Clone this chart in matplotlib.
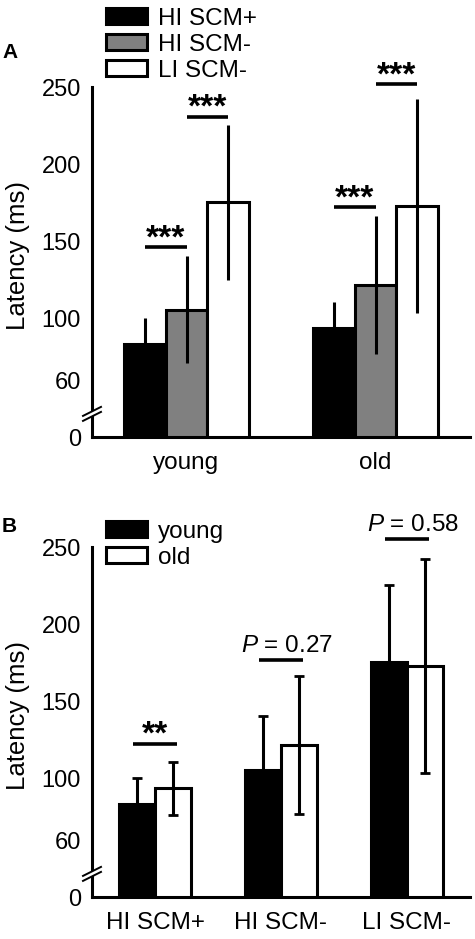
import numpy as np
import matplotlib
matplotlib.use('Agg')
import matplotlib.pyplot as plt

plt.rcParams['font.family'] = ['Liberation Sans', 'DejaVu Sans']
plt.rcParams['mathtext.fontset'] = 'custom'
plt.rcParams['mathtext.it'] = 'Liberation Sans:italic'
plt.rcParams['mathtext.rm'] = 'Liberation Sans'

# ---------------- data ----------------
ages = ['young', 'old']
conditions = ['HI SCM+', 'HI SCM-', 'LI SCM-']
# mean latency (ms), index 0 = young, 1 = old
mean_hi_pos = [84, 94]
mean_hi_neg = [106, 122]
mean_li_neg = [175.5, 173]
# standard deviations
sd_hi_pos = [16.5, 17]
sd_hi_neg = [34.5, 44.5]
sd_li_neg = [50, 69]

yticks = [0, 60, 100, 150, 200, 250]
ytick_labels = ['0', '60', '100', '150', '200', '250']

# significance annotations panel A: (age index, pair start condition, y, label)
sigA_age = [0, 0, 1, 1]
sigA_cond = [0, 1, 0, 1]
sigA_y = [146.5, 230.6, 172.3, 251.7]
sigA_label = ['***', '***', '***', '***']

# significance annotations panel B (one per condition)
sigB_y = [122.6, 177, 255]
sigB_label = ['**', r'$\mathit{P}$ = 0.27', r'$\mathit{P}$ = 0.58']

# ---------------- broken axis scale ----------------
B0 = 23.7   # display position of zero
T = 45.0    # below this value the axis is compressed


def fwd(v):
    v = np.asarray(v, dtype=float)
    return np.where(v < T, B0 + v * (T - B0) / T, v)


def inv(d):
    d = np.asarray(d, dtype=float)
    return np.where(d < T, (d - B0) * T / (T - B0), d)


LW = 2.2
fig = plt.figure(figsize=(4.75, 9.39), dpi=100)

axA = fig.add_axes([92 / 475, 1 - 437 / 939, 378 / 475, 350 / 939])
axB = fig.add_axes([92 / 475, 1 - 897 / 939, 378 / 475, 350 / 939])


def style(ax):
    ax.set_yscale('function', functions=(fwd, inv))
    ax.set_ylim(0, 250)
    ax.set_yticks(yticks)
    ax.set_yticklabels(ytick_labels)
    ax.minorticks_off()
    for s in ['top', 'right']:
        ax.spines[s].set_visible(False)
    for s in ['left', 'bottom']:
        ax.spines[s].set_linewidth(LW)
    ax.tick_params(axis='y', which='both', length=0, pad=8, labelsize=17)
    ax.tick_params(axis='x', which='both', length=0, pad=11, labelsize=17.5)
    ax.set_ylabel('Latency (ms)', fontsize=18.5)
    ax.yaxis.set_label_coords(-0.164, 0.52)
    # axis break marks
    px, py = 1 / 378, 1 / 350
    yb = 0.066
    xs = np.array([-9, 9]) * px
    ax.fill([-3 * px, 3 * px, 3 * px, -3 * px],
            [yb + (-2.5 - 1.5) * py, yb + (-2.5 + 1.5) * py,
             yb + (2.5 + 1.5) * py, yb + (2.5 - 1.5) * py],
            color='white', transform=ax.transAxes, clip_on=False, zorder=5,
            lw=0)
    for c in (-2.5, 2.5):
        ax.plot(xs, yb + (c + 0.5 * np.array([-9, 9])) * py, color='black',
                lw=1.4, transform=ax.transAxes, clip_on=False, zorder=6)


# ---------------- panel A ----------------
style(axA)
xA = np.arange(len(ages))
wA = 0.22
colorsA = ['black', '#808080', 'white']
meansA = [mean_hi_pos, mean_hi_neg, mean_li_neg]
sdsA = [sd_hi_pos, sd_hi_neg, sd_li_neg]
handles = []
for i in range(3):
    b = axA.bar(xA + (i - 1) * wA, meansA[i], wA, color=colorsA[i],
                edgecolor='black', linewidth=LW, yerr=sdsA[i],
                error_kw=dict(elinewidth=LW, ecolor='black', capsize=0),
                zorder=3)
    handles.append(b)
axA.set_xlim(-0.5, 1.5)
axA.set_xticks(xA)
axA.set_xticklabels(ages)
for a, c, y, lab in zip(sigA_age, sigA_cond, sigA_y, sigA_label):
    x0 = xA[a] + (c - 1) * wA
    x1 = x0 + wA
    axA.plot([x0, x1], [y, y], color='black', lw=2.6, clip_on=False,
             solid_capstyle='butt', zorder=4)
    axA.annotate(lab, xy=((x0 + x1) / 2, y), xytext=(0, 0),
                 textcoords='offset points', ha='center', va='baseline',
                 fontsize=24, fontweight='bold', annotation_clip=False)
axA.legend(handles=handles, labels=conditions, loc='upper left',
           bbox_to_anchor=(106 / 475, 1 - 8 / 939),
           bbox_transform=fig.transFigure, frameon=False, fontsize=17.5,
           handlelength=1.7, handleheight=0.63, handletextpad=0.42,
           labelspacing=0.16, borderpad=0, borderaxespad=0)
fig.text(2 / 475, 1 - 53 / 939, 'A', fontsize=15, fontweight='bold',
         va='center', ha='left')

# ---------------- panel B ----------------
style(axB)
xB = np.arange(len(conditions))
wB = 0.285
young_means = [m[0] for m in meansA]
old_means = [m[1] for m in meansA]
young_sds = [s[0] for s in sdsA]
old_sds = [s[1] for s in sdsA]
hb = []
for i, (means, sds, col) in enumerate([(young_means, young_sds, 'black'),
                                       (old_means, old_sds, 'white')]):
    b = axB.bar(xB + (i - 0.5) * wB, means, wB, color=col, edgecolor='black',
                linewidth=LW, yerr=sds,
                error_kw=dict(elinewidth=LW, ecolor='black', capsize=3.5,
                              capthick=2),
                zorder=3)
    hb.append(b)
axB.set_xlim(-0.5, 2.5)
axB.set_xticks(xB)
axB.set_xticklabels(conditions)
for x, y, lab in zip(xB, sigB_y, sigB_label):
    axB.plot([x - 0.175, x + 0.175], [y, y], color='black', lw=2.6,
             clip_on=False, solid_capstyle='butt', zorder=4)
    if lab.startswith('*'):
        axB.annotate(lab, xy=(x, y), xytext=(0, 0), textcoords='offset points',
                     ha='center', va='baseline', fontsize=24,
                     fontweight='bold', annotation_clip=False)
    else:
        axB.annotate(lab, xy=(x, y), xytext=(4, 6), textcoords='offset points',
                     ha='center', va='baseline', fontsize=17.5,
                     annotation_clip=False)
axB.legend(handles=hb, labels=ages, loc='upper left',
           bbox_to_anchor=(106 / 475, 1 - 521 / 939),
           bbox_transform=fig.transFigure, frameon=False, fontsize=17.5,
           handlelength=1.7, handleheight=0.63, handletextpad=0.42,
           labelspacing=0.16, borderpad=0, borderaxespad=0)
fig.text(2 / 475, 1 - 527 / 939, 'B', fontsize=15, fontweight='bold',
         va='center', ha='left')

fig.savefig('out.png', dpi=100)
